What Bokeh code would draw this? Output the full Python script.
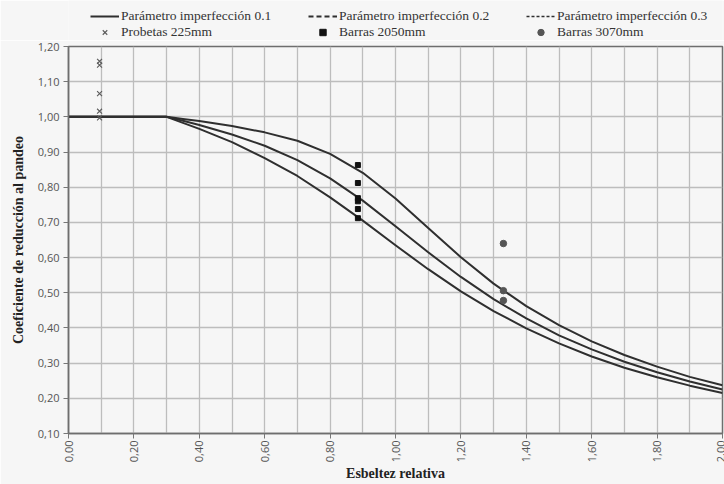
import math
from bokeh.plotting import figure
from bokeh.layouts import column
from bokeh.models import Range1d, FixedTicker, Legend, LegendItem, ColumnDataSource
from bokeh.embed import file_html
from bokeh.resources import INLINE

# ---- data ----
lam = [0.0, 0.3, 0.35, 0.4, 0.5, 0.6, 0.7, 0.8, 0.9, 1.0, 1.1, 1.2, 1.3, 1.4, 1.5, 1.6, 1.7, 1.8, 1.9, 2.0]
chi_01 = [1.0, 1.0, 0.994, 0.988, 0.974, 0.956, 0.932, 0.895, 0.841, 0.768, 0.684, 0.601, 0.526, 0.462, 0.408, 0.362, 0.323, 0.290, 0.261, 0.237]
chi_02 = [1.0, 1.0, 0.989, 0.977, 0.950, 0.918, 0.877, 0.825, 0.762, 0.689, 0.615, 0.545, 0.482, 0.427, 0.379, 0.339, 0.304, 0.274, 0.248, 0.225]
chi_03 = [1.0, 1.0, 0.983, 0.966, 0.928, 0.883, 0.832, 0.771, 0.705, 0.635, 0.567, 0.504, 0.448, 0.399, 0.356, 0.319, 0.287, 0.260, 0.236, 0.215]

probetas_x = [0.095, 0.095, 0.095, 0.095, 0.095]
probetas_y = [1.158, 1.147, 1.066, 1.016, 0.997]
b2050_x = [0.885, 0.885, 0.885, 0.885, 0.885, 0.885]
b2050_y = [0.863, 0.812, 0.769, 0.760, 0.738, 0.712]
b3070_x = [1.33, 1.33, 1.33]
b3070_y = [0.640, 0.506, 0.478]

series_labels = ["Parámetro imperfección 0.1", "Parámetro imperfección 0.2", "Parámetro imperfección 0.3",
                 "Probetas 225mm", "Barras 2050mm", "Barras 3070mm"]

x_ticks = [0.0, 0.2, 0.4, 0.6, 0.8, 1.0, 1.2, 1.4, 1.6, 1.8, 2.0]
x_tick_labels = ["0,00", "0,20", "0,40", "0,60", "0,80", "1,00", "1,20", "1,40", "1,60", "1,80", "2,00"]
x_grid = [0.1, 0.2, 0.3, 0.4, 0.5, 0.6, 0.7, 0.8, 0.9, 1.0, 1.1, 1.2, 1.3, 1.4, 1.5, 1.6, 1.7, 1.8, 1.9]
y_ticks = [0.1, 0.2, 0.3, 0.4, 0.5, 0.6, 0.7, 0.8, 0.9, 1.0, 1.1, 1.2]
y_tick_labels = ["0,10", "0,20", "0,30", "0,40", "0,50", "0,60", "0,70", "0,80", "0,90", "1,00", "1,10", "1,20"]

BG = "#f6f6f6"
LINE = "#2f2f2f"
SERIF = "Liberation Serif"
SANS = "Open Sans"
W = 724
LEG_H = 40

# ---------------- main chart ----------------
p = figure(width=W, height=484 - LEG_H, output_backend="svg", toolbar_location=None,
           x_range=Range1d(0.0, 2.0), y_range=Range1d(0.1, 1.2),
           min_border_left=68, min_border_right=2, min_border_top=6, min_border_bottom=47)
p.background_fill_color = BG
p.border_fill_color = BG
p.outline_line_color = "#6e6e6e"
p.outline_line_width = 1.5

p.xaxis.ticker = FixedTicker(ticks=x_ticks)
p.yaxis.ticker = FixedTicker(ticks=y_ticks)
p.xaxis.major_label_overrides = dict(zip(x_ticks, x_tick_labels))
p.yaxis.major_label_overrides = dict(zip(y_ticks, y_tick_labels))
p.xaxis.major_label_orientation = math.pi / 2
for ax in (p.xaxis, p.yaxis):
    ax.minor_tick_line_color = None
    ax.major_tick_in = 0
    ax.major_tick_out = 5
    ax.major_tick_line_color = "#777777"
    ax.axis_line_color = "#6e6e6e"
    ax.axis_line_width = 1.5
    ax.major_label_text_font = SANS
    ax.major_label_text_font_size = "11px"
    ax.major_label_text_color = "#555555"
    ax.axis_label_text_font = SERIF
    ax.axis_label_text_font_style = "bold"
    ax.axis_label_text_font_size = "14px"
    ax.axis_label_text_color = "#222222"
p.xaxis.major_label_standoff = 2
p.yaxis.major_label_standoff = 4
p.xaxis.axis_label = "Esbeltez relativa"
p.yaxis.axis_label = "Coeficiente de reducción al pandeo"
p.xaxis.axis_label_standoff = 1
p.yaxis.axis_label_standoff = 9

p.xgrid.ticker = FixedTicker(ticks=x_grid)
p.ygrid.ticker = FixedTicker(ticks=y_ticks)
for g in (p.xgrid, p.ygrid):
    g.grid_line_color = "#bdbdbd"
    g.grid_line_width = 1.3

src = ColumnDataSource(dict(lam=lam, c1=chi_01, c2=chi_02, c3=chi_03))
p.line("lam", "c1", source=src, line_color=LINE, line_width=2, line_join="round")
p.line("lam", "c2", source=src, line_color=LINE, line_width=2, line_join="round")
p.line("lam", "c3", source=src, line_color=LINE, line_width=2, line_join="round")

MK_X = dict(marker="x", size=7, line_color="#5a5a5a", line_width=1.1)
MK_SQ = dict(marker="square", size=5, fill_color="#111111", line_color="#111111")
MK_CI = dict(marker="circle", size=6.5, fill_color="#555555", line_color="#555555")
p.scatter(probetas_x, probetas_y, **MK_X)
p.scatter(b2050_x, b2050_y, **MK_SQ)
p.scatter(b3070_x, b3070_y, **MK_CI)

# ---------------- legend strip ----------------
lg = figure(width=W, height=LEG_H, output_backend="svg", toolbar_location=None,
            x_range=Range1d(0, 1), y_range=Range1d(0, 1),
            x_axis_location=None, y_axis_location=None, min_border=0)
lg.grid.visible = False
lg.outline_line_color = None
lg.background_fill_color = BG
lg.border_fill_color = BG

nan = float("nan")
q1 = lg.line([nan], [nan], line_color=LINE, line_width=2)
q2 = lg.line([nan], [nan], line_color=LINE, line_width=1.8, line_dash="5 3")
q3 = lg.line([nan], [nan], line_color=LINE, line_width=1.6, line_dash="3 2")
q4 = lg.scatter([nan], [nan], **MK_X)
q5 = lg.scatter([nan], [nan], **MK_SQ)
q6 = lg.scatter([nan], [nan], **MK_CI)
proxies = [q1, q2, q3, q4, q5, q6]

# the strip's frame is aligned with the chart's frame (left edge at 68 px)
common = dict(orientation="horizontal", padding=0, margin=0, spacing=0,
              glyph_width=29, glyph_height=16, label_height=16, label_width=187, label_standoff=2,
              label_text_font=SERIF, label_text_font_size="13.5px", label_text_color="#333333",
              background_fill_alpha=0, border_line_color=None)
row1 = Legend(items=[LegendItem(label=series_labels[i], renderers=[proxies[i]]) for i in range(3)],
              location=(22, 16), **common)
row2 = Legend(items=[LegendItem(label=series_labels[i], renderers=[proxies[i]]) for i in range(3, 6)],
              location=(22, 0), **common)
lg.add_layout(row1)
lg.add_layout(row2)

layout = column(lg, p, spacing=0)
open("out.html", "w").write(file_html(layout, INLINE))
